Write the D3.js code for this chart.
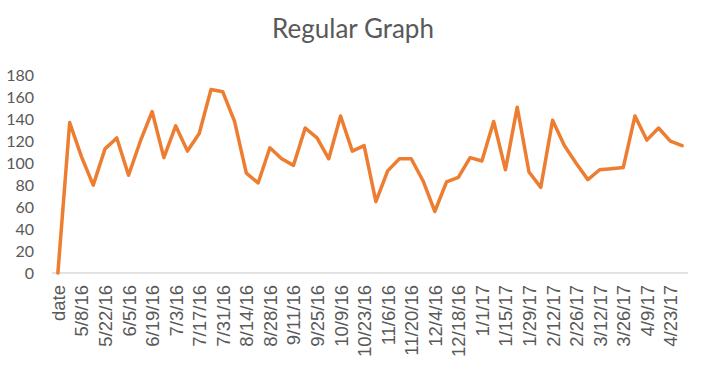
<!DOCTYPE html>
<html>
<head>
<meta charset="utf-8">
<script src="https://cdn.jsdelivr.net/npm/d3@7"></script>
<style>
  body { margin: 0; background: #fff; }
  #stage { width: 714px; height: 374px; }
</style>
</head>
<body>
<div id="stage"></div>
<script>
const categories = [
  "date", "5/1/16", "5/8/16", "5/15/16", "5/22/16", "5/29/16", "6/5/16", "6/12/16",
  "6/19/16", "6/26/16", "7/3/16", "7/10/16", "7/17/16", "7/24/16", "7/31/16",
  "8/7/16", "8/14/16", "8/21/16", "8/28/16", "9/4/16", "9/11/16", "9/18/16",
  "9/25/16", "10/2/16", "10/9/16", "10/16/16", "10/23/16", "10/30/16", "11/6/16",
  "11/13/16", "11/20/16", "11/27/16", "12/4/16", "12/11/16", "12/18/16",
  "12/25/16", "1/1/17", "1/8/17", "1/15/17", "1/22/17", "1/29/17", "2/5/17",
  "2/12/17", "2/19/17", "2/26/17", "3/5/17", "3/12/17", "3/19/17", "3/26/17",
  "4/2/17", "4/9/17", "4/16/17", "4/23/17", "4/30/17"
];

const values = [
  0, 137, 106, 80, 113, 123, 89, 120, 147, 105, 134, 111, 127, 167, 165, 138,
  91, 82, 114, 104, 98, 132, 123, 104, 143, 111, 116, 65, 93, 104, 104, 84,
  56, 83, 87, 105, 102, 138, 94, 151, 92, 78, 139, 116, 100, 85, 94, 95, 96,
  143, 121, 132, 120, 116
];

const yTicks = [0, 20, 40, 60, 80, 100, 120, 140, 160, 180];

const width = 714;
const height = 374;

const svg = d3.select("#stage")
  .append("svg")
  .attr("width", width)
  .attr("height", height)
  .attr("viewBox", `0 0 ${width} ${height}`);

const x = d3.scalePoint()
  .domain(categories)
  .range([52, 688])
  .padding(0.5);

const y = d3.scaleLinear()
  .domain([0, 180])
  .range([273, 75.3]);

// title
svg.append("text")
  .attr("x", 353)
  .attr("y", 38)
  .attr("text-anchor", "middle")
  .attr("font-family", "Lato, 'Open Sans', sans-serif")
  .attr("font-size", "26px")
  .attr("fill", "#595959")
  .text("Regular Graph");

// y axis labels
const yAxis = d3.axisLeft(y).tickValues(yTicks).tickSize(0).tickPadding(0);
svg.append("g")
  .attr("transform", "translate(34,0)")
  .call(yAxis)
  .call(g => g.select(".domain").remove())
  .selectAll("text")
  .attr("font-family", "Lato, 'Open Sans', sans-serif")
  .attr("font-size", "16px")
  .attr("fill", "#595959");

// baseline
svg.append("line")
  .attr("x1", 52)
  .attr("x2", 688)
  .attr("y1", y(0))
  .attr("y2", y(0))
  .attr("stroke", "#d9d9d9")
  .attr("stroke-width", 1.5);

// x axis labels (every other category)
const xAxis = d3.axisBottom(x)
  .tickValues(categories.filter((d, i) => i % 2 === 0))
  .tickSize(0)
  .tickPadding(0);

svg.append("g")
  .attr("transform", `translate(0,${y(0)})`)
  .call(xAxis)
  .call(g => g.select(".domain").remove())
  .selectAll("text")
  .attr("font-family", "'Liberation Sans', Arial, sans-serif")
  .attr("font-size", "18.5px")
  .attr("fill", "#595959")
  .attr("text-anchor", "end")
  .attr("dy", "0.35em")
  .attr("transform", "translate(0,12) rotate(-90)");

// line
const line = d3.line()
  .x((d, i) => x(categories[i]))
  .y(d => y(d));

svg.append("path")
  .datum(values)
  .attr("fill", "none")
  .attr("stroke", "#ED7D31")
  .attr("stroke-width", 3.5)
  .attr("stroke-linejoin", "round")
  .attr("stroke-linecap", "round")
  .attr("d", line);
</script>
</body>
</html>
